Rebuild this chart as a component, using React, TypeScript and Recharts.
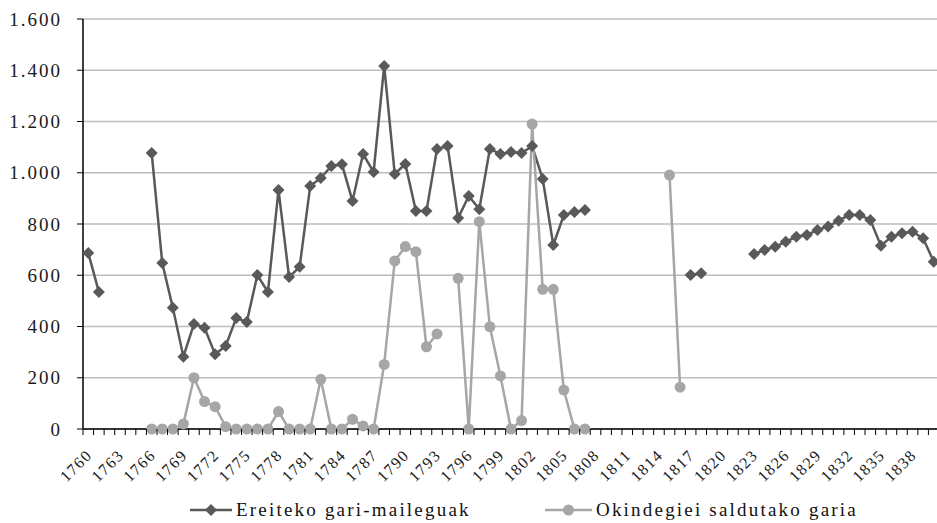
import React from "react";
import {
  LineChart,
  Line,
  XAxis,
  YAxis,
  CartesianGrid,
} from "recharts";

const years = [
  "1760", "1761", "1762", "1763", "1764", "1765", "1766", "1767", "1768", "1769",
  "1770", "1771", "1772", "1773", "1774", "1775", "1776", "1777", "1778", "1779",
  "1780", "1781", "1782", "1783", "1784", "1785", "1786", "1787", "1788", "1789",
  "1790", "1791", "1792", "1793", "1794", "1795", "1796", "1797", "1798", "1799",
  "1800", "1801", "1802", "1803", "1804", "1805", "1806", "1807", "1808", "1809",
  "1810", "1811", "1812", "1813", "1814", "1815", "1816", "1817", "1818", "1819",
  "1820", "1821", "1822", "1823", "1824", "1825", "1826", "1827", "1828", "1829",
  "1830", "1831", "1832", "1833", "1834", "1835", "1836", "1837", "1838", "1839",
  "1840",
];

// Ereiteko gari-maileguak
const maileguak = [
  687, 535, null, null, null, null, 1077, 648, 473, 282,
  410, 395, 292, 324, 433, 418, 601, 535, 933, 593,
  633, 948, 980, 1026, 1033, 890, 1073, 1003, 1417, 995,
  1034, 851, 851, 1093, 1104, 823, 909, 858, 1093, 1073,
  1081, 1077, 1104, 976, 718, 835, 847, 855, null, null,
  null, null, null, null, null, null, null, 601, 608, null,
  null, null, null, 683, 699, 711, 731, 750, 757, 777,
  790, 813, 835, 835, 816, 715, 750, 764, 770, 744,
  653,
];

// Okindegiei saldutako garia
const saldutakoa = [
  null, null, null, null, null, null, 0, 0, 0, 20,
  200, 107, 87, 9, 0, 0, 0, 0, 68, 0,
  0, 0, 194, 0, 0, 38, 12, 0, 252, 656,
  712, 692, 321, 371, null, 588, 0, 809, 399, 207,
  0, 33, 1190, 545, 545, 152, 0, 0, null, null,
  null, null, null, null, null, 991, 163, null, null, null,
  null, null, null, null, null, null, null, null, null, null,
  null, null, null, null, null, null, null, null, null, null,
  null,
];

const yTicks = [0, 200, 400, 600, 800, 1000, 1200, 1400, 1600];

const data = years.map((year, i) => ({
  year,
  maileguak: maileguak[i],
  saldutakoa: saldutakoa[i],
}));

const DARK = "#595959";
const LIGHT = "#a6a6a6";
const FONT = "'Liberation Serif', 'Times New Roman', serif";

const CHART_W = 945;
const CHART_H = 523;
const Y_AXIS_W = 83;
const RIGHT = 6;
const BAND = (CHART_W - Y_AXIS_W - RIGHT) / years.length;

const fmt = (v: number) => v.toString().replace(/\B(?=(\d{3})+(?!\d))/g, ".");

const XTick = (props: any) => {
  const { x, y, payload } = props;
  const yr = parseInt(payload.value, 10);
  const left = x - BAND / 2;
  return (
    <g>
      <line x1={left} x2={left} y1={y} y2={y + 6} stroke="#000" strokeWidth={1} />
      {(yr - 1760) % 3 === 0 && (
        <text
          transform={`translate(${x + 5},${y + 27}) rotate(-45)`}
          textAnchor="end"
          fontFamily={FONT}
          fontSize={16}
          letterSpacing={1.5}
          fill="#1a1a1a"
        >
          {payload.value}
        </text>
      )}
    </g>
  );
};

const Diamond = (props: any) => {
  const { cx, cy, value, index } = props;
  if (value == null || cx == null || cy == null) return <g key={`d-${index}`} />;
  const r = 6;
  return (
    <path
      key={`d-${index}`}
      d={`M${cx},${cy - r}L${cx + r},${cy}L${cx},${cy + r}L${cx - r},${cy}Z`}
      fill={DARK}
    />
  );
};

const Round = (props: any) => {
  const { cx, cy, value, index } = props;
  if (value == null || cx == null || cy == null) return <g key={`c-${index}`} />;
  return <circle key={`c-${index}`} cx={cx} cy={cy} r={5.5} fill={LIGHT} />;
};

const legendText: React.CSSProperties = {
  fontFamily: FONT,
  fontSize: 19,
  letterSpacing: 2.2,
  color: "#111",
  whiteSpace: "nowrap",
};

export default function App() {
  return (
    <div
      style={{
        position: "absolute",
        left: 0,
        top: 0,
        width: 937,
        height: 523,
        overflow: "hidden",
        background: "#fff",
      }}
    >
      <LineChart
        width={CHART_W}
        height={CHART_H}
        data={data}
        margin={{ top: 19, right: RIGHT, bottom: 0, left: 0 }}
      >
        <CartesianGrid vertical={false} stroke="#bdbdbd" strokeWidth={1.5} />
        <XAxis
          dataKey="year"
          interval={0}
          height={94}
          padding={{ left: BAND / 2, right: BAND / 2 }}
          tickSize={0}
          tickMargin={0}
          tickLine={false}
          axisLine={{ stroke: "#000", strokeWidth: 1.5 }}
          tick={<XTick />}
        />
        <YAxis
          width={Y_AXIS_W}
          domain={[0, 1600]}
          ticks={yTicks}
          interval={0}
          tickFormatter={fmt}
          tickSize={6}
          tickMargin={15}
          axisLine={{ stroke: "#000", strokeWidth: 1.5 }}
          tickLine={{ stroke: "#000" }}
          tick={{ fontFamily: FONT, fontSize: 19, fill: "#1a1a1a", letterSpacing: 2 }}
        />
        <Line
          dataKey="maileguak"
          name="Ereiteko gari-maileguak"
          stroke={DARK}
          strokeWidth={2.5}
          dot={<Diamond />}
          activeDot={false}
          isAnimationActive={false}
        />
        <Line
          dataKey="saldutakoa"
          name="Okindegiei saldutako garia"
          stroke={LIGHT}
          strokeWidth={2.5}
          dot={<Round />}
          activeDot={false}
          isAnimationActive={false}
        />
      </LineChart>
      <div style={{ position: "absolute", left: 190, top: 499, display: "flex", alignItems: "center" }}>
        <svg width={42} height={14}>
          <line x1={0} x2={42} y1={7} y2={7} stroke={DARK} strokeWidth={2.5} />
          <path d="M21,1L27,7L21,13L15,7Z" fill={DARK} />
        </svg>
        <span style={{ ...legendText, marginLeft: 4 }}>Ereiteko gari-maileguak</span>
      </div>
      <div style={{ position: "absolute", left: 545, top: 499, display: "flex", alignItems: "center" }}>
        <svg width={47} height={14}>
          <line x1={0} x2={47} y1={7} y2={7} stroke={LIGHT} strokeWidth={2.5} />
          <circle cx={23.5} cy={7} r={5.5} fill={LIGHT} />
        </svg>
        <span style={{ ...legendText, marginLeft: 4 }}>Okindegiei saldutako garia</span>
      </div>
    </div>
  );
}
